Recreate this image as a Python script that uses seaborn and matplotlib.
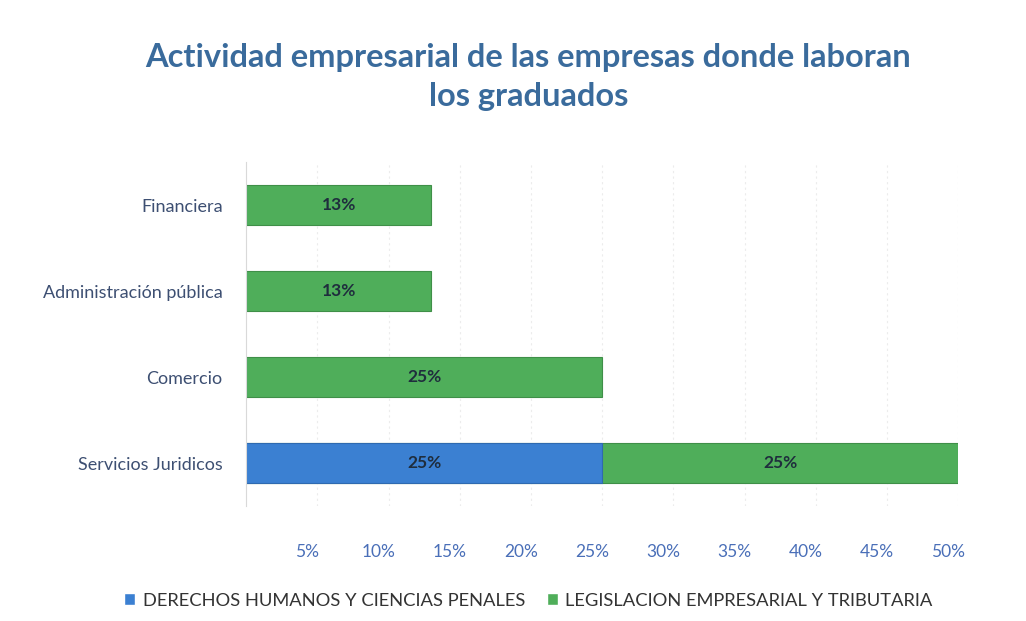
import matplotlib.pyplot as plt
import matplotlib.transforms as mtransforms
import pandas as pd
import seaborn as sns
from matplotlib.patches import Patch

categories = ["Financiera", "Administración pública", "Comercio", "Servicios Juridicos"]
derechos = [0.0, 0.0, 0.0, 0.25]
legislacion = [0.13, 0.13, 0.25, 0.25]
xticks = [0.05, 0.10, 0.15, 0.20, 0.25, 0.30, 0.35, 0.40, 0.45, 0.50]

series_names = ["DERECHOS HUMANOS Y CIENCIAS PENALES", "LEGISLACION EMPRESARIAL Y TRIBUTARIA"]
BLUE = "#3b80d2"
GREEN = "#4fae5a"

df = pd.DataFrame({"categoria": categories, "derechos": derechos, "legislacion": legislacion})
df["total"] = df["derechos"] + df["legislacion"]

sns.set_style("white")
plt.rcParams["font.family"] = ["Lato", "DejaVu Sans"]

fig = plt.figure(figsize=(10.26, 6.21), dpi=100)
ax = fig.add_axes([0.24, 0.185, 0.694, 0.554])

# stacked look: total in green underneath, blue drawn on top
sns.barplot(data=df, x="total", y="categoria", color=GREEN, orient="h", width=0.47,
            saturation=1, ax=ax, edgecolor="#3f8f48", linewidth=0.8)
sns.barplot(data=df, x="derechos", y="categoria", color=BLUE, orient="h", width=0.47,
            saturation=1, ax=ax, edgecolor="#2f6ab0", linewidth=0.8)

for i, row in df.iterrows():
    if row["derechos"] > 0:
        ax.text(row["derechos"] / 2, i, f"{row['derechos']:.0%}", ha="center", va="center",
                fontsize=12.5, fontweight="bold", color="#1f2d3d")
    if row["legislacion"] > 0:
        ax.text(row["derechos"] + row["legislacion"] / 2, i, f"{row['legislacion']:.0%}",
                ha="center", va="center", fontsize=12.5, fontweight="bold", color="#1f2d3d")

ax.set_xlim(0, 0.5)
ax.set_ylim(3.5, -0.5)
ax.set_xticks(xticks)
ax.set_xticklabels([f"{t:.0%}" for t in xticks], color="#4a6fb8", fontsize=12.5)
ax.tick_params(axis="x", length=0, pad=27)
ax.tick_params(axis="y", length=0, pad=17, labelsize=13, labelcolor="#3d4f72")
# the original has a 3D floor, so the labels sit a little left of the bars
shift = mtransforms.ScaledTranslation(-0.1, 0, fig.dpi_scale_trans)
for lbl in ax.get_xticklabels():
    lbl.set_transform(lbl.get_transform() + shift)
ax.set_xlabel("")
ax.set_ylabel("")
ax.grid(axis="x", color="#ececec", linewidth=0.8, linestyle=(0, (2, 3)))
ax.set_axisbelow(True)
for side in ["top", "right", "bottom"]:
    ax.spines[side].set_visible(False)
ax.spines["left"].set_color("#d9d9d9")

fig.suptitle("Actividad empresarial de las empresas donde laboran\nlos graduados",
             x=0.515, y=0.93, fontsize=23.5, fontweight="bold", color="#3a6b9c",
             linespacing=1.4)

handles = [Patch(facecolor=BLUE), Patch(facecolor=GREEN)]
fig.legend(handles, series_names, loc="center", bbox_to_anchor=(0.515, 0.033), ncol=2,
           frameon=False, fontsize=13.2, handlelength=0.6, handleheight=0.6,
           handletextpad=0.4, columnspacing=1.2, labelcolor="#333333")

fig.savefig("out.png", dpi=100)
